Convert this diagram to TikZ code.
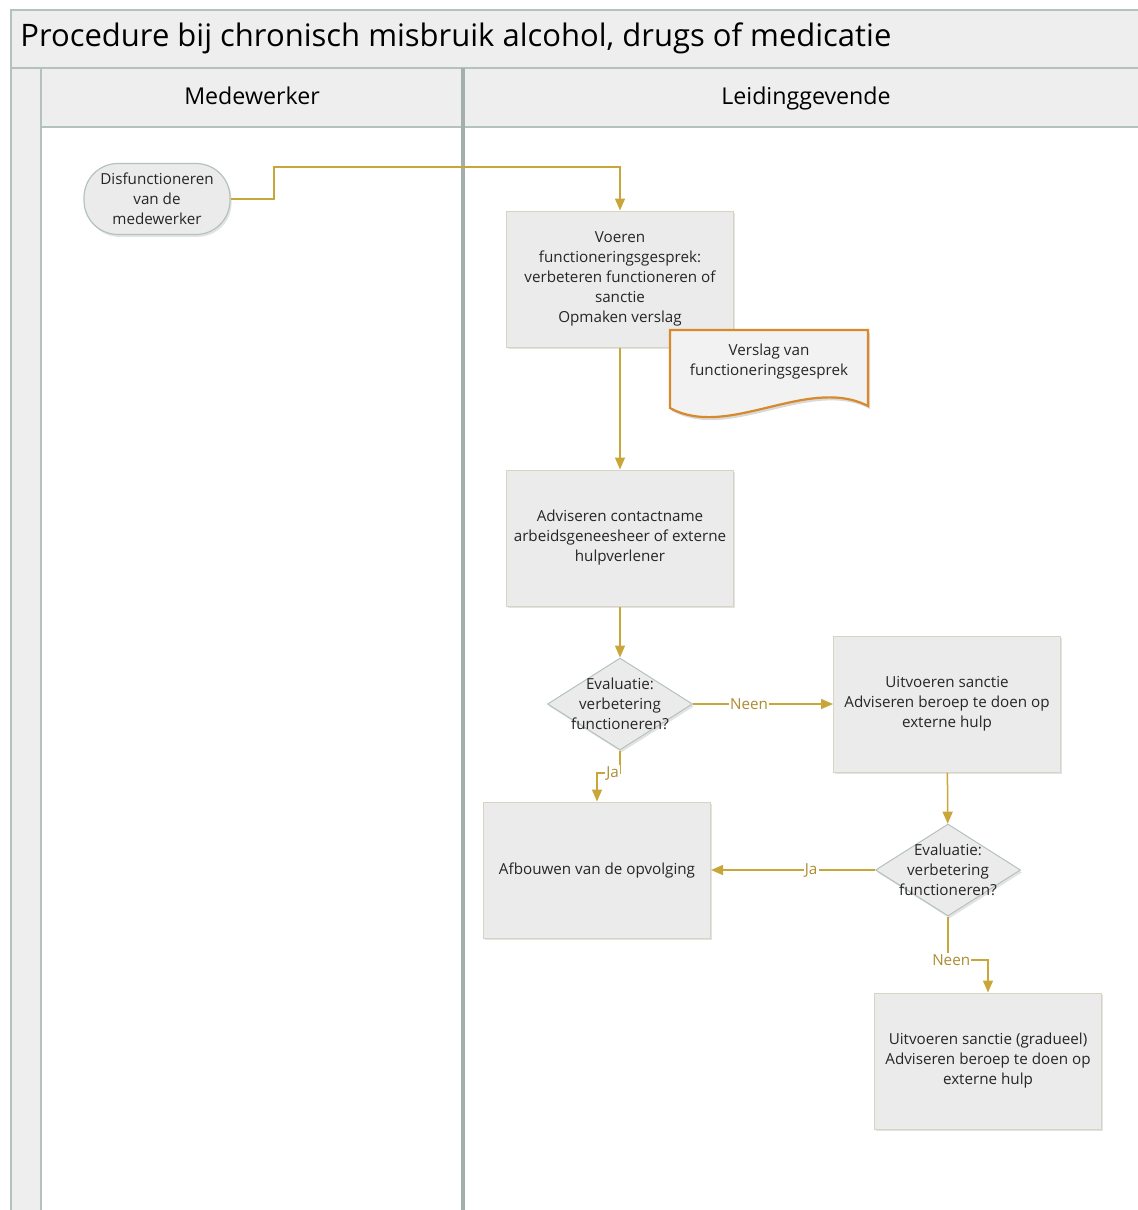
\documentclass[tikz,border=0pt]{standalone}
\usepackage{fontspec}
\setmainfont{Open Sans}
\usetikzlibrary{arrows.meta,shapes.geometric,shadows}

\definecolor{lanefill}{HTML}{EEEEEE}
\definecolor{laneline}{HTML}{B4C2BE}
\definecolor{taskfill}{HTML}{EBEBEB}
\definecolor{taskline}{HTML}{D9D4C2}
\definecolor{flowgold}{HTML}{C9A63A}
\definecolor{docorange}{HTML}{D68A2C}
\definecolor{docfill}{HTML}{F2F2F2}

\begin{document}
\begin{tikzpicture}[x=0.5pt,y=-0.5pt,
  every node/.style={font=\fontsize{7.6}{10}\selectfont, text=black!85},
  lane/.style={draw=laneline, line width=0.8pt, fill=lanefill},
  lanetitle/.style={anchor=base, font=\fontsize{11.6}{14}\selectfont, text=black},
  softshadow/.style={drop shadow={opacity=0.22, shadow xshift=0.8pt, shadow yshift=-1.2pt}},
  task/.style={rectangle, draw=taskline, fill=taskfill, line width=0.5pt,
    minimum width=113.5pt, minimum height=68pt, align=center, softshadow},
  startnode/.style={rectangle, rounded corners=17pt, draw=laneline, fill=taskfill,
    line width=0.6pt, minimum width=73pt, minimum height=35.5pt, inner sep=1pt,
    align=center, softshadow},
  decision/.style={diamond, draw=laneline, fill=taskfill, line width=0.5pt,
    minimum width=72.5pt, minimum height=46pt, inner sep=0pt, softshadow},
  flow/.style={draw=flowgold, line width=0.75pt, -{Triangle[length=6pt,width=5pt]}},
  lbl/.style={fill=white, inner sep=0.6pt, text=flowgold!85!black}]
  \useasboundingbox (0,0) rectangle (1138,1210);

  % swimlanes
  \draw[lane] (11,10) rectangle (1145,68);
  \node[anchor=west, inner sep=0pt, font=\fontsize{15.5}{18}\selectfont, text=black] (title) at (20,38)
    {Procedure bij chronisch misbruik alcohol, drugs of medicatie};
  \draw[lane] (11,68) rectangle (41,1220);
  \draw[lane] (41,68) rectangle (463,127);
  \draw[lane] (463,68) rectangle (1145,127);
  \node[lanetitle] (lane1) at (252,104) {Medewerker};
  \node[lanetitle] (lane2) at (806,104) {Leidinggevende};
  \draw[laneline, line width=0.8pt] (41,127) -- (41,1220);
  \draw[laneline!90!black, line width=1.6pt] (463,68) -- (463,1220);

  % steps
  \node[startnode] (start) at (157,199) {Disfunctioneren\\van de\\medewerker};
  \node[task] (gesprek) at (620,279)
    {Voeren\\functioneringsgesprek:\\verbeteren functioneren of\\sanctie\\Opmaken verslag};
  \node[task] (advies) at (620,538)
    {Adviseren contactname\\arbeidsgeneesheer of externe\\hulpverlener};
  \node[decision, label={[align=center]center:Evaluatie:\\verbetering\\functioneren?}]
    (eval1) at (620,704) {};
  \node[task] (sanctie) at (947,704)
    {Uitvoeren sanctie\\Adviseren beroep te doen op\\externe hulp};
  \node[task] (afbouw) at (597,870) {Afbouwen van de opvolging};
  \node[decision, label={[align=center]center:Evaluatie:\\verbetering\\functioneren?}]
    (eval2) at (948,870) {};
  \node[task] (gradueel) at (988,1061)
    {Uitvoeren sanctie (gradueel)\\Adviseren beroep te doen op\\externe hulp};

  % document
  \fill[black, opacity=0.15] (672,333) -- (870,333) -- (870,409)
    .. controls (810,378) and (730,443) .. (672,411) -- cycle;
  \draw[docorange, line width=1.1pt, fill=docfill] (670,330) -- (868,330) -- (868,406)
    .. controls (808,375) and (728,440) .. (670,408) -- cycle;
  \node[align=center] (verslag) at (769,362) {Verslag van\\functioneringsgesprek};

  % connectors
  \draw[flow] (start.east) -| (274,167) -| (gesprek.north);
  \draw[flow] (gesprek) -- (advies);
  \draw[flow] (advies) -- (eval1);
  \draw[flow] (eval1) -- node[lbl, pos=0.4] (neen1) {Neen} (sanctie);
  \draw[flow] (eval1.south) -- (620,773) -| node[lbl, pos=0.16] (ja1) {Ja} (afbouw.north);
  \draw[flow] (sanctie) -- (eval2);
  \draw[flow] (eval2) -- node[lbl, pos=0.39] (ja2) {Ja} (afbouw);
  \draw[flow] (eval2.south) -- (948,960) -| node[lbl, pos=0.04] (neen2) {Neen} (gradueel.north);
\end{tikzpicture}
\end{document}
